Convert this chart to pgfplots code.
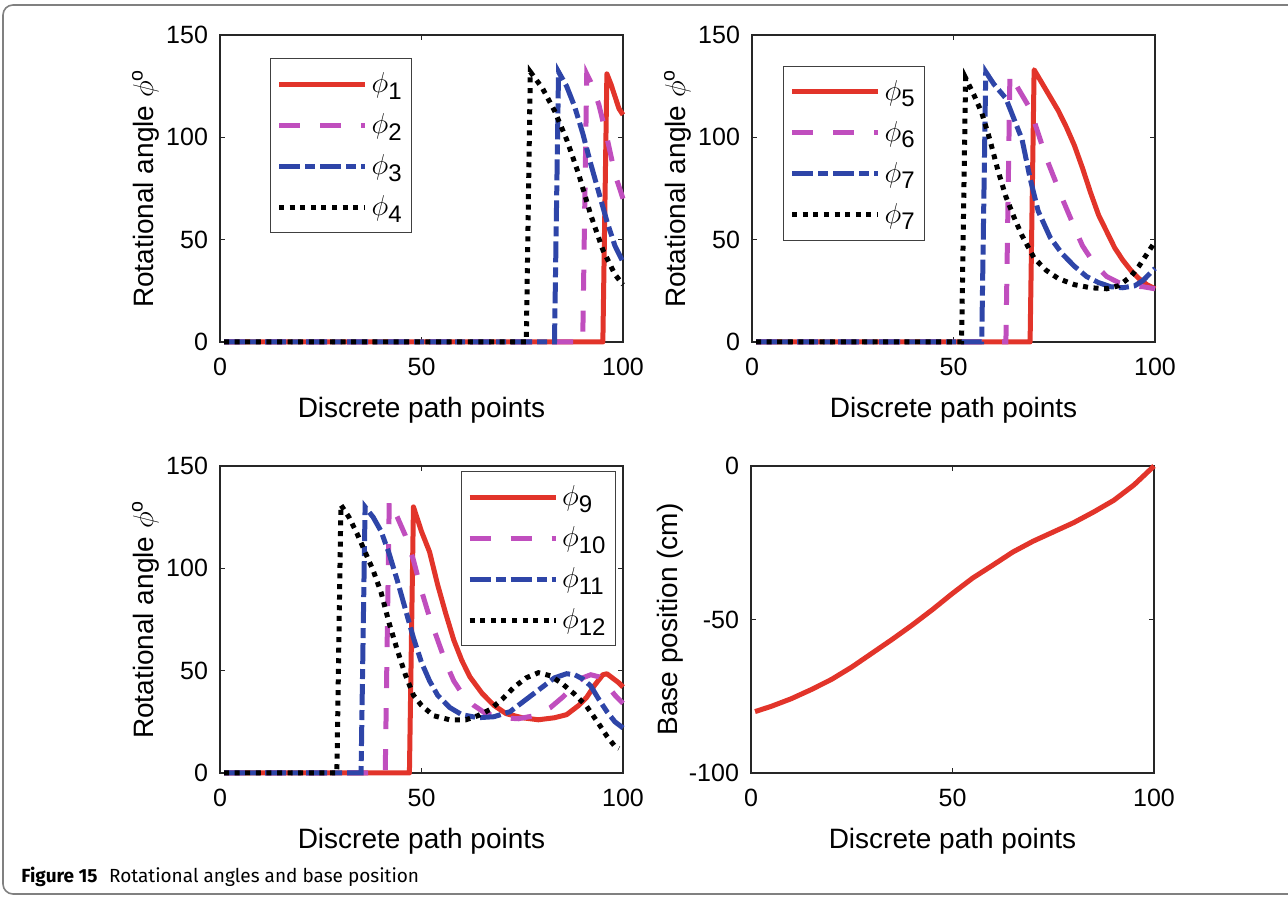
\documentclass[border=0pt]{standalone}
\usepackage{fontspec}
\setmainfont{Liberation Sans}
\newfontfamily\capfont{Fira Sans}
\usepackage{pgfplots}
\pgfplotsset{compat=1.18}
\definecolor{mred}{HTML}{E2342A}
\definecolor{mmag}{HTML}{C04EBE}
\definecolor{mblue}{HTML}{2E45A8}
% legend entry: phi with a MATLAB-like subscript
\newcommand{\ph}[1]{$\phi$\raisebox{-0.45ex}{\fontsize{12}{13}\selectfont #1}}

\pgfplotsset{
  panel/.style={
    scale only axis, width=201.5pt, height=153.5pt,
    xmin=0, xmax=100, xtick={0,50,100},
    axis line style={draw=black!85, line width=0.7pt},
    tick style={draw=black!85, line width=0.7pt},
    major tick length=2.5pt,
    tick align=inside, tick pos=both,
    ticklabel style={font=\fontsize{12.5}{14}\selectfont},
    xticklabel style={yshift=-4.5pt},
    yticklabel style={xshift=-2.5pt},
    /pgf/number format/assume math mode=true,
    label style={font=\fontsize{14}{16}\selectfont},
    xlabel={Discrete path points},
    xlabel style={at={(axis description cs:0.5,-0.179)}, anchor=north, inner sep=0pt},
    ylabel style={at={(axis description cs:-0.166,0.5)}, anchor=base, inner sep=0pt},
    clip=false,
    legend cell align=left,
    legend image code/.code={\draw[#1] (0pt,0pt) -- (43pt,0pt);},
    legend style={draw=black!75, line width=0.6pt, fill=white, inner xsep=3pt,
      inner ysep=5pt, row sep=5pt, font=\fontsize{14}{15}\selectfont, anchor=north west},
  },
  angle/.style={panel, ymin=0, ymax=150, ytick={0,50,100,150},
    ylabel={Rotational angle $\phi$\textsuperscript{o}}},
  s1/.style={mred, line width=2.5pt, line join=round},
  s2/.style={mmag, line width=2.5pt, dash pattern=on 10.5pt off 10pt},
  s3/.style={mblue, line width=2.5pt, dash pattern=on 10.5pt off 2.5pt on 5pt off 2.5pt},
  s4/.style={black, line width=2.5pt, dash pattern=on 2.5pt off 2.8pt},
}

\begin{document}
\begin{tikzpicture}[x=1pt,y=1pt]
\useasboundingbox (0,0) rectangle (644,448.5);
\draw[black!50, line width=0.8pt, rounded corners=5pt]
  (646,1.5) -- (1.5,1.5) -- (1.5,446) -- (646,446);

% top left
\begin{axis}[angle, at={(110pt,277.5pt)}, anchor=south west,
  legend style={at={(0.124,0.925)}}]
\addplot[s1] coordinates {(1,0) (95,0) (96,131) (97,126) (98,120) (99,114) (100,111)};
\addplot[s2] coordinates {(1,0) (90,0) (91,131) (92,127) (94,116) (96,100) (98,82) (100,70)};
\addplot[s3] coordinates {(1,0) (83,0) (84,132) (86,125) (88,115) (90,102) (92,87) (94,73) (96,59) (98,47) (100,39)};
\addplot[s4] coordinates {(1,0) (76,0) (77,132) (80,124) (83,113) (86,99) (89,82) (92,62) (95,45) (98,33) (100,28)};
\legend{\ph{1}, \ph{2}, \ph{3}, \ph{4}}
\end{axis}

% top right
\begin{axis}[angle, at={(376pt,277.5pt)}, anchor=south west,
  legend style={at={(0.077,0.9)}}]
\addplot[s1] coordinates {(1,0) (69,0) (70,133) (73,123) (76,113) (78,105) (80,96) (82,85) (84,73) (86,62) (88,54) (90,46) (92,40) (94,35) (96,31) (98,28) (100,26)};
\addplot[s2] coordinates {(1,0) (63,0) (64,131) (66,124) (69,114) (71,102) (73,90) (75,80) (77,70) (80,56) (82,47) (85,38) (88,32) (91,29) (94,27.5) (97,27) (100,26)};
\addplot[s3] coordinates {(1,0) (57,0) (58,132) (60,126) (63,119) (65,109) (67,99) (69,80) (71,64) (74,51) (77,43) (80,37) (83,32) (86,29) (89,27) (92,26.5) (95,27.5) (97,30) (100,36)};
\addplot[s4] coordinates {(1,0) (52,0) (53,129) (55,121) (57,112) (59,99) (61,84) (63,71) (65,61) (67,52) (70,41) (73,35) (76,31) (80,28) (84,26.5) (88,26) (91,27.5) (94,32) (96,37) (98,43) (100,49)};
\legend{\ph{5}, \ph{6}, \ph{7}, \ph{7}}
\end{axis}

% bottom left
\begin{axis}[angle, at={(110pt,62pt)}, anchor=south west,
  legend style={at={(0.597,0.984)}}]
\addplot[s1] coordinates {(1,0) (47,0) (48,130) (50,118) (52,108) (54,92) (56,78) (58,65) (60,55) (62,47) (65,39) (68,33) (71,29) (75,27) (79,26) (83,27) (86,28.5) (89,33) (91,37) (93,43) (95,48) (96,48.5) (97,47) (99,44) (100,42)};
\addplot[s2] coordinates {(1,0) (41,0) (42,133) (44,125) (46,116) (48,104) (50,89) (52,76) (54,65) (56,54) (58,45) (60,39) (63,33) (66,29) (70,27) (74,26.5) (78,28) (82,32) (85,37) (88,43) (90,46.5) (92,48) (94,47) (96,43) (98,38) (100,34)};
\addplot[s3] coordinates {(1,0) (35,0) (36,130) (38,125) (40,118) (42,107) (44,94) (46,80) (48,66) (50,54) (52,45) (54,38) (57,32) (60,28.5) (64,27) (68,27.5) (72,30) (76,36) (80,42) (83,46.5) (86,48.5) (88,48) (90,46) (92,42.5) (94,36) (96,30) (98,25) (100,22)};
\addplot[s4] coordinates {(1,0) (29,0) (30,131) (32,125) (34,117) (36,108) (38,99) (40,88) (42,73) (44,60) (46,48) (48,38) (50,33) (53,28) (57,26) (61,26) (64,28) (67,31) (70,36) (73,42) (76,46.5) (79,49) (82,47.5) (85,43.5) (88,38.5) (91,32.5) (94,24) (96,18) (98,13) (99,12)};
\legend{\ph{9}, \ph{10}, \ph{11}, \ph{12}}
\end{axis}

% bottom right
\begin{axis}[panel, at={(375.5pt,62pt)}, anchor=south west,
  ymin=-100, ymax=0, ytick={-100,-50,0}, yticklabels={-100,-50,0},
  ylabel={Base position (cm)},
  ylabel style={at={(axis description cs:-0.183,0.5)}}]
\addplot[s1] coordinates {(1,-80) (5,-78.3) (10,-75.8) (15,-72.8) (20,-69.5) (25,-65.5) (30,-61) (35,-56.5) (40,-51.8) (45,-46.8) (50,-41.5) (55,-36.5) (60,-32.3) (65,-28) (70,-24.5) (75,-21.5) (80,-18.5) (85,-15) (90,-11.2) (95,-6.2) (98,-2.5) (100,0)};
\end{axis}

\node[anchor=base west, inner sep=0pt] at (10.5,7)
  {\capfont\fontsize{9.5}{11}\selectfont\textbf{Figure 15}\hspace{0.6em}Rotational angles and base position};
\end{tikzpicture}
\end{document}
